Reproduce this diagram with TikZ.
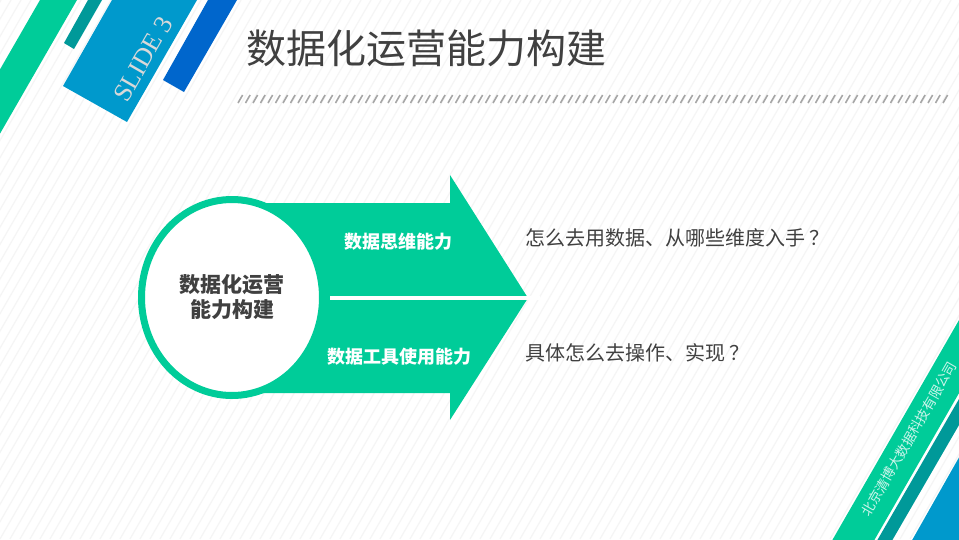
\documentclass[tikz,border=0pt]{standalone}
\usepackage{fontspec}
\usepackage{tikz}
\usetikzlibrary{positioning, shapes.geometric}
\newfontfamily\cjk{Noto Sans CJK SC}
\newfontfamily\slidefont{Liberation Serif}
\definecolor{mint}{HTML}{00CC99}
\definecolor{tealband}{HTML}{009999}
\definecolor{skyband}{HTML}{0099CC}
\definecolor{deepband}{HTML}{0066CC}
\definecolor{inkgray}{HTML}{404040}

\begin{document}
\begin{tikzpicture}[x=1pt, y=-1pt,
        stripe/.style={draw=black!4, line width=1.2pt},
        hatch/.style={draw=black!35, line width=1.6pt},
        question/.style={anchor=west, inner sep=0pt, text=inkgray, font=\cjk\fontsize{20}{24}\selectfont},
        skill/.style={inner sep=0pt, text=white, font=\cjk\bfseries\fontsize{18}{22}\selectfont}]
        \useasboundingbox (0,0) rectangle (959,539);

        % background
        \fill[white] (0,0) rectangle (959,539);
        \begin{scope}
            \clip (0,0) rectangle (959,539);
            \foreach \s in {-320,-310,...,960}
                \draw[stripe] (\s,539) -- (\s+311,0);

            % corner bands
            \fill[mint] (40,0) -- (77,0) -- (-10,151) -- (-47,151) -- cycle;
            \fill[tealband] (88,0) -- (102,0) -- (74,49) -- (64,43) -- cycle;
            \fill[skyband] (112,0) -- (197,0) -- (127,122) -- (63,86) -- cycle;
            \fill[deepband] (208,0) -- (237,0) -- (184,92) -- (163,80) -- cycle;
            \fill[mint] (970,301) -- (822,558) -- (864,558) -- (970,374) -- cycle;
            \fill[tealband] (970,380) -- (867,558) -- (882,558) -- (970,406) -- cycle;
            \fill[skyband] (970,438) -- (902,558) -- (970,558) -- cycle;
        \end{scope}

        \node (slide) [rotate=60, text=black!15, font=\slidefont\fontsize{26}{30}\selectfont] at (143,59) {SLIDE 3};
        \node (company) [rotate=60, text=white!80!mint, font=\cjk\fontsize{13.5}{16}\selectfont] at (909,439) {北京清博大数据科技有限公司};

        % title
        \node (title) [anchor=west, inner sep=0pt, text=inkgray, font=\cjk\fontsize{40}{48}\selectfont] at (246,48) {数据化运营能力构建};
        \foreach \h in {238,245.5,...,948}
            \draw[hatch] (\h,103) -- (\h+4.6,95);

        % arrow
        \fill[mint] (232,203) -- (450,203) -- (450,175) -- (528,298)
            -- (450,420) -- (450,393) -- (232,393) -- cycle;
        \fill[white] (330,296) rectangle (540,300);
        \node (core) [ellipse, minimum width=181pt, minimum height=196pt, draw=mint, line width=7pt, fill=white,
            align=center, text=inkgray, font=\cjk\bfseries\fontsize{21}{25}\selectfont] at (232,297.5) {数据化运营\\能力构建};

        \node (thinking) [skill] at (398,242) {数据思维能力};
        \node (tools) [skill] at (399,357) {数据工具使用能力};

        \node (how) [question] at (525,238) {怎么去用数据、从哪些维度入手\hspace{0.2em}？};
        \node (doit) [question] at (525,353) {具体怎么去操作、实现\hspace{0.2em}？};

    \end{tikzpicture}
\end{document}
